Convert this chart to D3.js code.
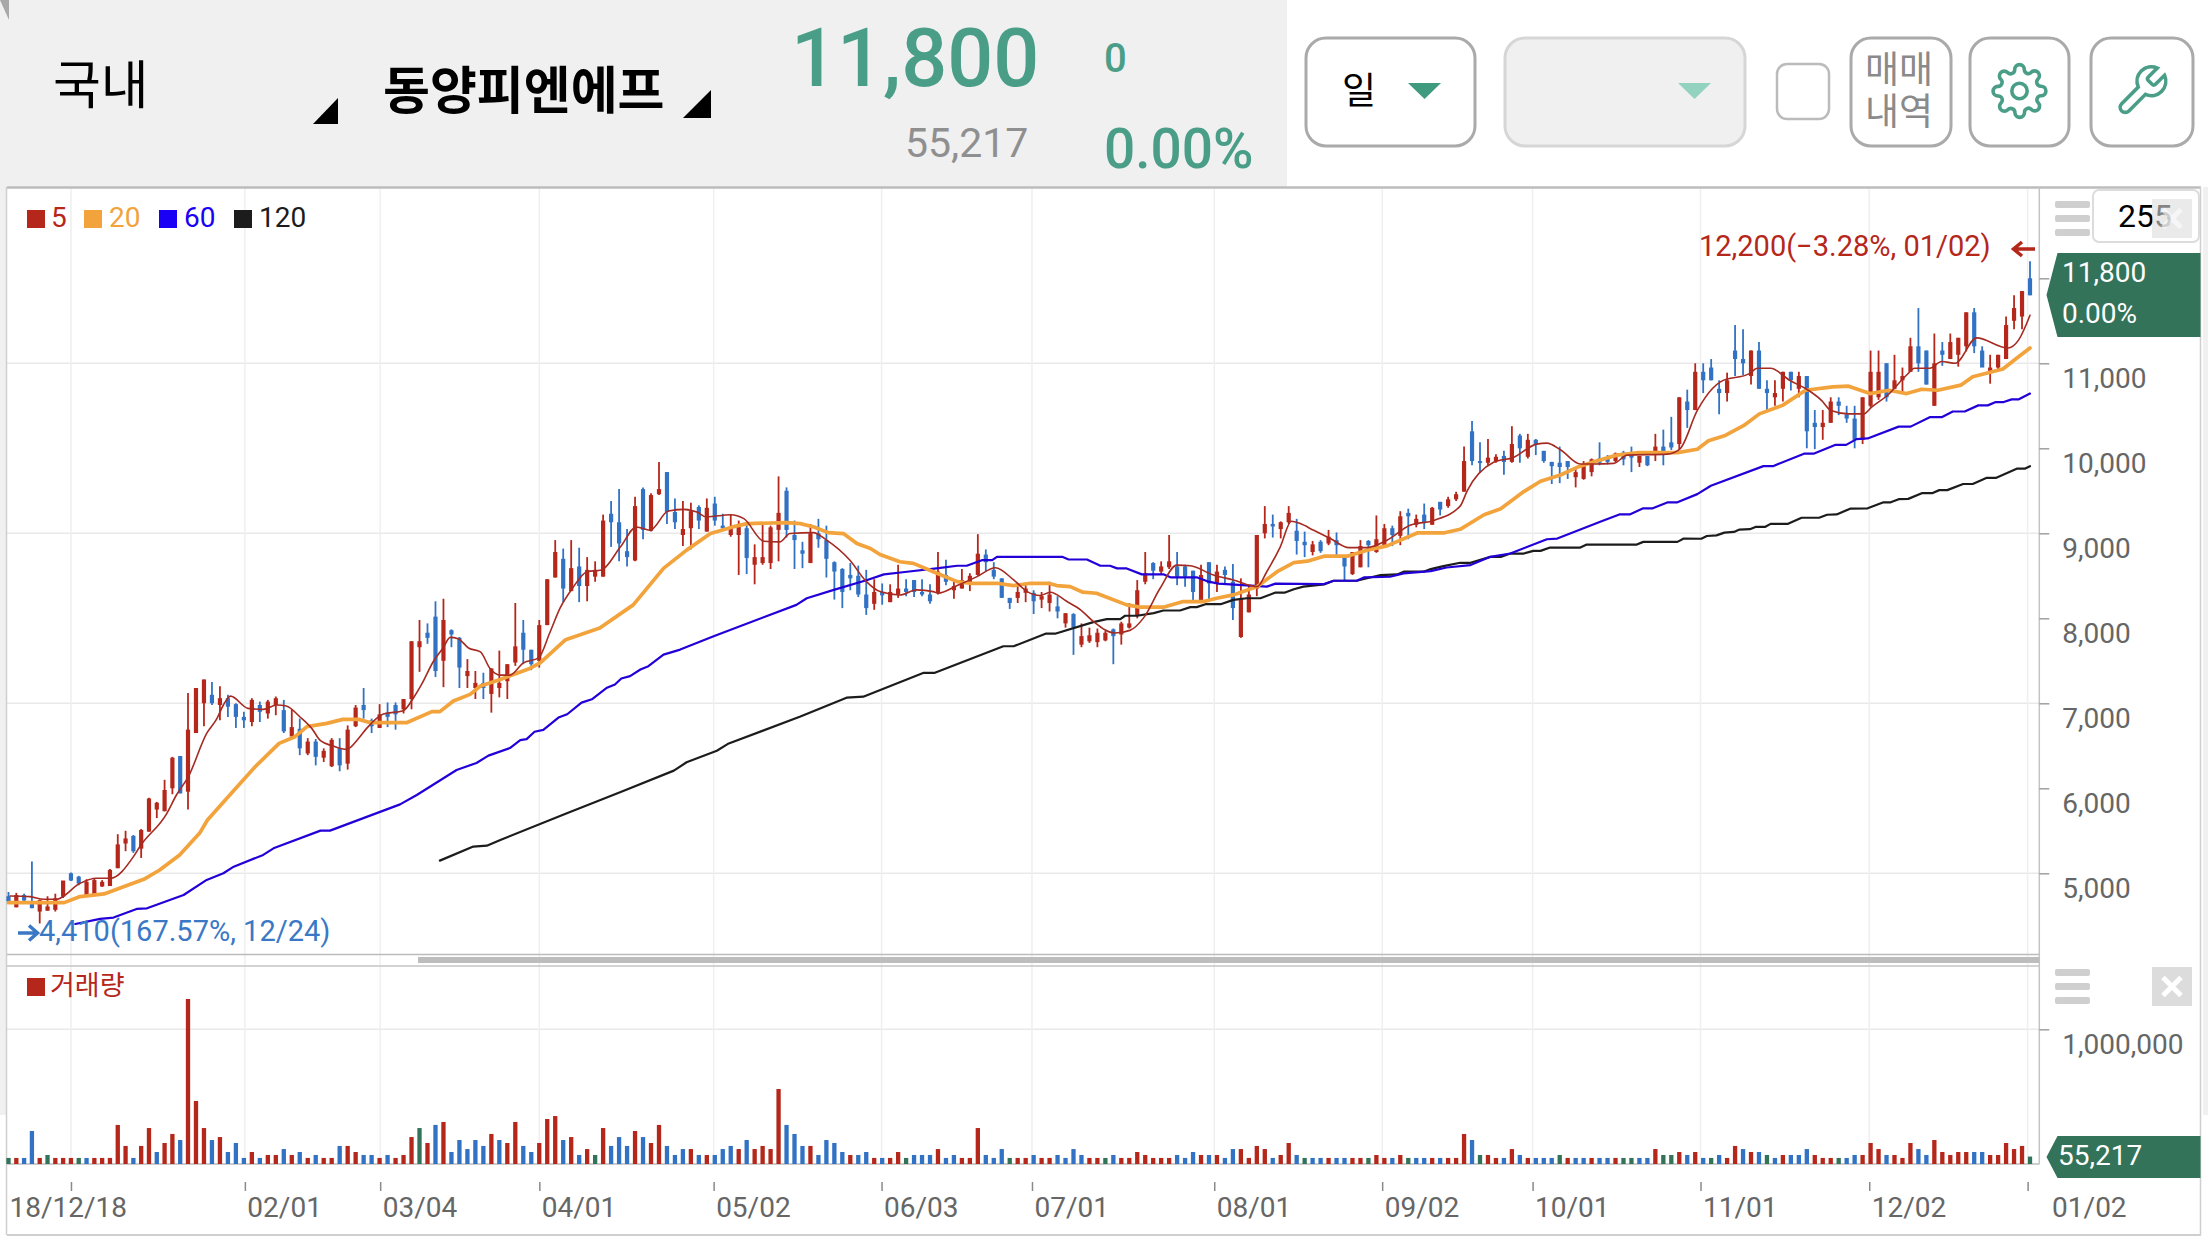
<!DOCTYPE html>
<html><head><meta charset="utf-8">
<script src="https://cdn.jsdelivr.net/npm/d3@7"></script>
<style>html,body{margin:0;padding:0;background:#fff;overflow:hidden}svg{display:block}text{font-family:Roboto,sans-serif}.kr{font-family:"Noto Sans CJK KR",sans-serif}</style>
</head><body><svg id="c" width="2208" height="1242"></svg>
<script>
const highs=[4780,4770,4760,5140,4690,4730,4760,4910,5010,4970,
4930,4940,4920,5050,5460,5500,5450,5520,5890,5840,
6100,6370,6380,7120,7180,7280,7250,7200,7100,7000,
6900,7060,7020,7040,7080,7040,6930,6820,6590,6580,
6470,6590,6590,6740,6980,7180,6820,6990,7010,7010,
7050,7730,7980,7940,8200,8230,7870,7780,7520,7380,
7360,7410,7620,7460,8180,7980,7630,7980,8460,8920,
8820,8920,8830,8720,8670,9220,9380,9520,9050,9430,
9540,9470,9840,9720,9410,9380,9360,9330,9410,9430,
9230,9220,9150,9130,8870,9130,9090,9670,9540,9150,
8900,9110,9170,9090,8670,8590,8650,8620,8570,8460,
8410,8400,8630,8460,8450,8460,8400,8780,8690,8450,
8580,8530,8990,8810,8660,8470,8240,8410,8390,8330,
8310,8430,8260,8060,8060,7940,7890,7880,7850,7880,
7960,8180,8450,8780,8660,8670,8980,8780,8630,8560,
8630,8660,8630,8610,8640,8470,8390,8980,9320,9220,
9140,9320,9170,9020,8910,8920,9040,9010,8710,8780,
8920,8920,9210,9110,9090,9260,9290,9220,9350,9310,
9370,9430,9490,10020,10320,10070,10110,9930,9970,10260,
10170,10170,10110,9970,9840,10020,9850,9780,9850,9880,
10070,9920,9950,9970,10020,9910,9910,10170,10220,10370,
10600,10690,11000,11000,11050,10800,10890,11450,11400,11150,
11250,10800,10800,10900,10900,10900,10850,10450,10450,10600,
10600,10500,10500,10600,11150,11150,11000,11100,10950,11300,
11650,11150,11350,11250,11350,11300,11600,11650,11200,11100,
11100,11550,11800,11850,12200];
const lows=[4650,4600,4670,4590,4410,4560,4550,4710,4910,4860,
4750,4750,4840,4850,5060,5260,5240,5180,5490,5650,
5730,5930,5940,5750,6650,6730,6980,6800,6840,6710,
6710,6730,6780,6820,6860,6650,6590,6390,6390,6270,
6310,6250,6200,6220,6720,6820,6650,6710,6720,6690,
6880,6930,7370,7700,7310,7190,7660,7180,7180,7050,
7050,6890,7070,7050,7440,7460,7390,7420,7920,8480,
8190,8320,8190,8200,8430,8490,8840,8670,8610,8670,
8930,9020,9450,9110,9050,8850,8810,9050,9020,9090,
9050,8960,8510,8520,8400,8630,8580,8670,8950,8580,
8590,8650,8830,8480,8220,8120,8330,8250,8040,8100,
8160,8190,8240,8260,8250,8260,8170,8280,8390,8230,
8350,8320,8500,8550,8460,8240,8110,8180,8190,8050,
8120,8080,8000,7890,7570,7660,7710,7660,7730,7460,
7690,7880,8000,8400,8460,8520,8580,8390,8370,8190,
8190,8200,8310,8400,7980,7770,8070,8260,8940,8950,
8940,9110,8750,8720,8740,8770,8860,8730,8450,8510,
8600,8600,8770,8850,8850,8860,8930,9070,9050,9100,
9210,9300,9380,9490,9800,9710,9800,9830,9690,9830,
9830,9880,9920,9830,9580,9590,9640,9540,9630,9670,
9800,9810,9830,9800,9720,9780,9790,9850,9800,9980,
9990,10240,10450,10650,10800,10400,10550,10850,10860,10750,
10700,10450,10500,10550,10680,10600,10000,9990,10100,10300,
10390,10300,10000,10050,10480,10570,10550,10700,10660,10900,
10900,10750,10500,10970,11050,10960,11140,11120,10960,10760,
10900,11060,11400,11400,11800];
const opens=[4730,4600,4745,4665,4550,4560,4570,4725,5000,4960,
4745,4755,4845,4850,5060,5350,5440,5290,5490,5750,
5730,6000,6380,5960,6650,7000,7100,6980,7060,6990,
6840,6780,6980,6880,6980,6920,6610,6700,6410,6550,
6360,6260,6470,6290,6730,6980,6800,6710,6890,6980,
6930,7050,7660,7830,8020,7500,7860,7770,7320,7180,
7240,7110,7180,7260,7480,7830,7630,7500,7920,8480,
8700,8320,8610,8380,8490,8490,9230,9130,8790,8680,
9520,9030,9460,9720,9250,8980,9060,9310,9020,9350,
9090,8980,8980,9060,8630,8650,8650,9040,9500,8980,
8800,8650,9000,8920,8660,8580,8510,8500,8280,8170,
8310,8190,8280,8350,8450,8310,8280,8300,8510,8330,
8350,8410,8510,8750,8570,8470,8240,8240,8300,8300,
8220,8180,8140,7940,8050,7690,7730,7720,7740,7870,
7810,7890,8030,8430,8650,8550,8600,8610,8610,8560,
8190,8660,8410,8570,8430,7780,8070,8350,9000,9110,
9050,9130,9030,8900,8780,8900,8880,8920,8710,8520,
8600,8910,8780,8860,9060,8970,9240,9100,9220,9100,
9370,9320,9400,9490,10200,9850,9830,9850,9910,9840,
10150,9900,10100,9970,9840,9830,9850,9660,9640,9720,
9880,9890,9850,9950,9930,9830,9910,9960,10020,10070,
10050,10550,10450,10900,10950,10700,10650,11150,11050,10850,
11150,10700,10600,10700,10900,10700,10850,10300,10250,10300,
10550,10400,10350,10100,10500,10600,11000,10700,10800,10900,
11200,11150,10500,11150,11050,11100,11200,11600,11150,10900,
10950,11050,11500,11550,12000];
const closes=[4670,4745,4680,4590,4685,4610,4705,4915,4915,4880,
4900,4920,4900,5040,5340,5410,5260,5510,5880,5830,
5980,6360,5940,6690,7180,7280,7000,7060,6960,6840,
6800,7040,6900,7020,7060,6670,6720,6470,6550,6370,
6440,6570,6270,6690,6950,6920,6730,6870,6840,6870,
7050,7730,7730,7770,7380,7980,7810,7420,7380,7240,
7180,7410,7240,7460,7670,7630,7460,7920,8460,8780,
8350,8590,8380,8570,8570,9150,9130,8880,8720,9320,
9040,9450,9520,9250,9130,9050,9260,9150,9300,9150,
9060,9070,9110,8710,8720,8720,9070,9240,9040,8920,
8760,9000,8930,8700,8550,8310,8470,8280,8120,8310,
8270,8310,8350,8310,8310,8280,8200,8550,8430,8380,
8450,8500,8760,8660,8490,8240,8180,8310,8350,8200,
8260,8280,8080,8060,7890,7790,7800,7830,7830,7790,
7940,7940,8330,8530,8560,8610,8670,8490,8490,8310,
8510,8410,8550,8510,8120,8240,8280,8980,9110,9080,
9130,9240,8910,8860,8870,8790,8960,8860,8610,8780,
8850,8860,8930,9060,8980,9200,9200,9170,9120,9300,
9280,9400,9460,9850,9850,9830,9890,9900,9840,10050,
10000,10100,10050,9850,9790,9780,9780,9720,9800,9870,
9830,9840,9940,9870,9890,9910,9800,10020,9950,10010,
10600,10450,10900,10800,10800,10650,10800,11050,11000,11150,
10700,10650,10650,10900,10800,10850,10200,10250,10300,10550,
10500,10350,10100,10600,10900,10900,10600,10800,10850,11200,
11000,10750,11000,11100,11250,11300,11600,11200,10950,10950,
11100,11450,11650,11850,11800];
const volumeThousands=[45,45,45,245,45,67,45,45,45,45,
45,45,45,45,290,134,45,134,267,89,
156,223,178,1225,468,267,178,200,89,156,
45,89,45,67,67,111,67,89,45,67,
45,45,134,134,89,67,67,45,67,45,
67,200,267,156,290,312,89,178,111,178,
134,223,178,156,312,134,89,156,334,356,
178,200,67,111,67,267,134,200,134,245,
200,156,290,134,67,111,111,67,67,67,
111,134,111,178,111,134,111,557,290,223,
134,134,67,178,156,89,67,67,89,45,
45,45,89,45,67,67,67,111,45,67,
45,45,267,67,45,111,45,45,45,67,
45,45,67,45,111,67,45,45,45,67,
45,45,89,67,45,45,45,67,45,89,
67,67,67,45,111,111,45,134,111,45,
67,156,67,45,45,45,45,45,45,45,
45,45,67,45,45,67,45,45,45,45,
45,45,45,223,178,67,67,45,45,111,
67,45,45,45,45,67,45,45,45,45,
45,45,45,45,45,45,45,111,67,67,
89,67,89,45,45,67,45,134,111,89,
89,67,45,67,67,67,111,67,45,45,
45,45,67,67,156,111,67,67,45,156,
111,67,178,89,67,89,89,89,89,67,
67,156,111,134,55.217];
const volumeDirs=("grbbrgrrrgbrrrrrbrrbrrbrrrbrbbbrbrrbrbrbrrbrrbbrbrrrgrbrbbbbbrbrrbbrrrbrbrgrbbbrbrrbbbrbrbbbrbrrrrbbbrbbbbrbbrbrrgbbbrbbrrrbbbgrrbrrbbbbrrgbrrrrrrrbbbrbrbbrrrrbrrbgbbrbbrrgrrbrgbbrbrrrb"+"grrbrbrbbbgrbbrbbrggbbrggrbrbgbrrbrbgbrbbbrrrgbbrrrbrrrbbrrrrrbbrrrrrg").split("");
const ma5Knots=[[0.2,4733],[2.7,4726],[4.4,4694],[6,4694],[9,4882],[11,4941],[12.8,4941],[15.7,5196],[16.5,5314],[19.9,5706],[21.1,5921],[22.6,6137],[24.9,6646],[26.2,6823],[27,6980],[27.9,7085],[30.1,6940],[32,6929],[33.7,6980],[34.9,6968],[36.6,6842],[38.1,6705],[39.2,6560],[40.8,6497],[42.5,6458],[44,6588],[45,6705],[47.1,6874],[49.6,6913],
[50.9,7066],[51.9,7222],[53.4,7495],[54.6,7651],[55.5,7776],[56.5,7760],[57.8,7651],[59.3,7604],[60.5,7409],[61.8,7331],[63,7331],[64.7,7476],[66.6,7534],[68,7827],[69.3,8119],[70.8,8345],[72.7,8548],[74.5,8568],[76.9,8841],[78.9,9075],[80.6,9036],[82.9,9262],[84.8,9281],[86.5,9250],[87.7,9192],[90.7,9219],[92.4,9172],[94.9,8907],[96.9,8899],[98.2,8997],[101.1,9008],[102.8,8919],[105.7,8685],[107.8,8431],[109.5,8314],[112,8275],
[114.1,8334],[116.2,8314],[116.8,8295],[119.2,8385],[121.7,8490],[124,8595],[126.3,8451],[128,8314],[129.6,8268],[130.9,8307],[133,8197],[134.7,8100],[136.3,7963],[139,7827],[140.9,7858],[142.6,8002],[144.7,8353],[146.8,8626],[148.5,8618],[151.4,8509],[153.9,8451],[156.9,8373],[158.1,8548],[159.8,8841],[161.2,9141],
[162.3,9114],[164,9035],[166.1,8938],[168.4,8832],[170.7,8832],[173.2,8918],[176.1,9094],[179.1,9152],[182.4,9320],[183.3,9503],[186.6,9835],[189.1,9893],[192,10049],[193.3,10061],[195,9983],[197.5,9815],[199.2,9815],[201.7,9823],[203.4,9920],[208.4,9932],[210,9991],[212.2,10445],[214.1,10703],[215.1,10782],[218.8,10882],[219.7,10941],[221.4,10941],[223.9,10794],[225.8,10703],[227.8,10564],[229,10445],[231.2,10405],[233.1,10405],[234.1,10485],[236.1,10624],[238.5,10862],[239.5,10941],[241.4,10941],[242.9,11021],[244.6,11001],[247.3,11299],[251.2,11180],[252.6,11279],[254,11565]];
const ma20Knots=[[0,4655],[7,4655],[9,4726],[12,4757],[17,4929],[19,5039],[21.5,5216],[24,5470],[25,5627],[28,5941],[31,6254],[34,6529],[36,6607],[37.5,6725],[40,6764],[42,6811],[44,6811],[45.5,6772],[50,6772],[53.2,6902],[54.2,6902],[55.9,7027],[58,7105],[59.3,7203],[61.8,7281],[65.5,7410],[66.8,7476],[70,7749],[74.3,7885],[78.5,8158],[82.3,8587],[85.2,8802],[88.2,8997],[91,9075],[92.8,9114],[97.8,9125],[99.5,9114],[101.2,9075],[103,9008],[104.9,8997],[106.6,8880],[108.3,8821],[109.5,8751],[112,8665],[113.7,8646],[116.2,8548],[119.2,8431],[120.8,8412],[124.2,8412],[126.3,8385],[128.4,8412],[130.7,8412],[131.7,8385],[133.4,8373],[135,8307],[136.7,8295],[140.5,8158],[142.2,8131],[145.1,8131],[147.6,8197],[150.2,8197],[151.8,8236],[153.9,8275],[156.9,8373],[159.4,8548],[161.5,8654],[163.2,8672],[165.3,8731],[168.2,8731],[170.7,8801],[173.2,8852],[177,9004],[180.3,9004],[182.4,9047],[185.4,9218],[187.5,9289],[190.4,9491],[192.5,9612],[195,9686],[197.1,9776],[199.2,9842],[202.1,9920],[204.9,9949],[209.7,9949],[212.2,9989],[213.6,10088],[215.6,10147],[218,10266],[220,10405],[222.9,10505],[225.8,10683],[229.2,10723],[231.2,10731],[233.9,10644],[236.3,10683],[238.5,10644],[240.4,10695],[242.4,10683],[245.3,10743],[246.8,10842],[250.6,10933],[252.6,11080],[254,11180]];
const ma60Knots=[[8.4,4404],[11.5,4463],[13.2,4479],[16.1,4581],[17.4,4588],[22,4745],[24.9,4922],[27,5000],[28.3,5078],[32,5216],[33.3,5294],[39.2,5502],[40.4,5502],[49.2,5811],[51.3,5921],[56.3,6215],[58.8,6298],[60.3,6384],[63,6474],[64.3,6567],[65.1,6579],[66.1,6665],[67.2,6688],[69.1,6832],[70.2,6871],[72,7008],[73.3,7047],[75.2,7183],[76.2,7222],[77,7292],[78.1,7320],[79.4,7398],[80.4,7437],[82.3,7573],[84.4,7632],[88.6,7788],[99,8158],[100.3,8236],[103.7,8334],[107.9,8451],[110,8517],[112.9,8548],[116.6,8587],[119.2,8618],[120.4,8618],[122.3,8684],[123.6,8684],[124.2,8723],[132.4,8723],[133.2,8692],[135.5,8692],[137.2,8618],[138.4,8618],[139.3,8587],[140.5,8587],[142.4,8517],[145.1,8517],[146,8482],[149.3,8482],[150.8,8431],[152,8408],[158.1,8373],[159.2,8408],[165.3,8403],[166.5,8442],[169.4,8442],[170.3,8481],[173.6,8489],[175.3,8528],[178.7,8555],[180.7,8598],[183.7,8626],[186.2,8723],[188.7,8762],[193.3,8930],[194.6,8938],[200,9135],[202.4,9222],[203.7,9222],[205.4,9294],[206.6,9294],[208.5,9365],[209.7,9365],[212.2,9461],[213.9,9560],[220.5,9790],[221.7,9790],[225.6,9937],[226.8,9937],[229.5,10040],[230.9,10040],[232.2,10108],[233.6,10116],[237.5,10255],[239,10255],[241.4,10366],[242.9,10366],[244.3,10433],[245.8,10433],[247.5,10505],[248.7,10505],[249.7,10544],[250.7,10544],[251.7,10576],[252.6,10576],[254,10644]];
const ma120Knots=[[54.2,5149],[58.4,5314],[60.1,5325],[61.8,5392],[70,5700],[77,5960],[83.6,6208],[85.2,6306],[89,6442],[90.5,6528],[99.5,6844],[105.3,7066],[107.4,7078],[115,7359],[116.4,7359],[125,7671],[126.3,7671],[130.3,7819],[131.5,7819],[136.3,7955],[138,7990],[139.7,7990],[140.3,8030],[141.8,8030],[143.9,8061],[145.1,8092],[147.2,8092],[148.5,8131],[149.3,8131],[150.4,8166],[152.3,8166],[153.9,8217],[155.6,8236],[157.3,8236],[159.2,8303],[160.4,8303],[161.5,8342],[162.7,8372],[165.3,8399],[166.5,8442],[169.4,8442],[172.4,8509],[174.5,8516],[175.3,8548],[177.8,8548],[178.7,8579],[180.3,8614],[182.4,8653],[183.7,8653],[186.2,8723],[187.5,8723],[188.7,8762],[190.4,8762],[191.6,8793],[192.5,8793],[193.7,8832],[197.5,8832],[198.3,8867],[204.6,8867],[205.4,8899],[209.7,8899],[210.5,8938],[212.7,8936],[213.4,8968],[214.6,8976],[215.6,9008],[216.8,9016],[217.5,9044],[218.8,9048],[219.5,9075],[220.7,9075],[221.4,9111],[223.6,9111],[225.3,9183],[227.5,9183],[228.5,9218],[229.7,9222],[231.4,9290],[233.6,9294],[235.6,9365],[236.5,9365],[237.5,9401],[238.7,9405],[240.4,9472],[241.7,9472],[242.6,9508],[243.6,9508],[245.6,9580],[246.8,9580],[248.5,9651],[249.7,9651],[252.4,9762],[253.4,9762],[254,9790]];
const tickDays=[7.85,29.7,46.7,66.7,88.6,109.7,128.6,151.5,172.6,191.5,212.6,233.8,253.7];
const tickLabels=["18/12/18","02/01","03/04","04/01","05/02","06/03","07/01","08/01","09/02","10/01","11/01","12/02","01/02"];
const priceTicks=[5000,6000,7000,8000,9000,10000,11000,12000];
const priceGrid=[5000,7000,9000,11000];
const volumeTicks=[1000000];
const legendNames=["5","20","60","120"];
const lastPrice=11800, lastVolume=55217;

const RED="#b5271b",BLUE="#3272c4",GREEN="#33735a",ORANGE="#f2a33c",INDIGO="#2200d8",BLACK="#1c1c1c",MINT="#4a9e88";
const svg=d3.select("#c");
const xLine=d3.scaleLinear().domain([0,254]).range([8.5,2030]);
const x=d3.scaleLinear().domain([0,23,82,254]).range([8.5,188,659,2030]);
const y=d3.scaleLinear().domain([5000,11000]).range([873.3,363.3]);
const yv=d3.scaleLinear().domain([0,1000000]).range([1164,1029.3]);
const L=7,R=2039.3;
const rect=(g,a,b,w,h,f,o={})=>{const r=g.append("rect").attr("x",a).attr("y",b).attr("width",w).attr("height",h).attr("fill",f);for(const k in o)r.attr(k,o[k]);return r;};
const txt=(g,s,a,b,fs,f,o={})=>{const t=g.append("text").attr("x",a).attr("y",b).attr("font-size",fs).attr("fill",f).text(s);for(const k in o)t.attr(k,o[k]);return t;};
const hline=(a,b,yy,c,w)=>svg.append("line").attr("x1",a).attr("x2",b).attr("y1",yy).attr("y2",yy).attr("stroke",c).attr("stroke-width",w);
const vline=(xx,a,b,c,w)=>svg.append("line").attr("x1",xx).attr("x2",xx).attr("y1",a).attr("y2",b).attr("stroke",c).attr("stroke-width",w);

// header
rect(svg,0,0,1287,187,"#f0f0f0");
svg.append("path").attr("d","M0 0H9L9 20Z").attr("fill","#a8a8a8");
rect(svg,0,187,6,928,"#f0f0f0");
rect(svg,2203,187,5,928,"#f0f0f0");
txt(svg,"국내",53,104,52,"#000",{class:"kr"});
svg.append("path").attr("d","M338 98V124H313Z").attr("fill","#000");
txt(svg,"동양피엔에프",383,109,51,"#000",{class:"kr","font-weight":700});
svg.append("path").attr("d","M711 90V118H683Z").attr("fill","#000");
txt(svg,d3.format(",")(lastPrice),791,86,81,MINT,{"font-weight":500});
txt(svg,"0",1104,72,40,MINT,{"font-weight":500});
txt(svg,d3.format(",")(lastVolume),905,157,41,"#8f8f8f");
txt(svg,"0.00%",1104,168,55,MINT,{"font-weight":500});
// buttons
const btn=(a,w,f,s)=>rect(svg,a,38,w,108,f,{rx:20,stroke:s,"stroke-width":3});
btn(1306,169,"#fff","#aaa");
txt(svg,"일",1342,104,37,"#000",{class:"kr"});
svg.append("path").attr("d","M1408 83H1441L1424.5 99Z").attr("fill","#3f9a80");
btn(1505,240,"#f0f0f0","#d6d6d6");
svg.append("path").attr("d","M1678 83H1711L1694.5 99Z").attr("fill","#94d2c0");
rect(svg,1777,64,52,55,"#fff",{rx:10,stroke:"#bbb","stroke-width":2.5});
btn(1851,100,"#fff","#aaa");
const tradeText=txt(svg,"",0,0,37,"#8a8a8a",{class:"kr"});
tradeText.append("tspan").attr("x",1865).attr("y",83).text("매매");
tradeText.append("tspan").attr("x",1865).attr("y",125).text("내역");
btn(1970,99,"#fff","#aaa");
svg.append("g").attr("transform","translate(1990.7,62.2) scale(2.4)").call(g=>{
 g.append("circle").attr("cx",12).attr("cy",12).attr("r",3.2).attr("fill","none").attr("stroke",MINT).attr("stroke-width",1.5);
 g.append("path").attr("fill","none").attr("stroke",MINT).attr("stroke-width",1.5).attr("d","M19.4 15a1.65 1.65 0 0 0 .33 1.82l.06.06a2 2 0 0 1 0 2.83 2 2 0 0 1-2.83 0l-.06-.06a1.65 1.65 0 0 0-1.82-.33 1.65 1.65 0 0 0-1 1.51V21a2 2 0 0 1-2 2 2 2 0 0 1-2-2v-.09A1.65 1.65 0 0 0 9 19.4a1.65 1.65 0 0 0-1.82.33l-.06.06a2 2 0 0 1-2.83 0 2 2 0 0 1 0-2.83l.06-.06a1.65 1.65 0 0 0 .33-1.82 1.65 1.65 0 0 0-1.51-1H3a2 2 0 0 1-2-2 2 2 0 0 1 2-2h.09A1.65 1.65 0 0 0 4.6 9a1.65 1.65 0 0 0-.33-1.82l-.06-.06a2 2 0 0 1 0-2.83 2 2 0 0 1 2.83 0l.06.06a1.65 1.65 0 0 0 1.82.33H9a1.65 1.65 0 0 0 1-1.51V3a2 2 0 0 1 2-2 2 2 0 0 1 2 2v.09a1.65 1.65 0 0 0 1 1.51 1.65 1.65 0 0 0 1.82-.33l.06-.06a2 2 0 0 1 2.83 0 2 2 0 0 1 0 2.83l-.06.06a1.65 1.65 0 0 0-.33 1.82V9a1.65 1.65 0 0 0 1.51 1H21a2 2 0 0 1 2 2 2 2 0 0 1-2 2h-.09a1.65 1.65 0 0 0-1.51 1z");
});
btn(2091,102,"#fff","#aaa");
svg.append("path").attr("transform","translate(2113,62) scale(2.4)").attr("fill","none").attr("stroke",MINT).attr("stroke-width",1.5).attr("d","M14.7 6.3a1 1 0 0 0 0 1.4l1.6 1.6a1 1 0 0 0 1.4 0l3.77-3.77a6 6 0 0 1-7.94 7.94l-6.91 6.91a2.12 2.12 0 0 1-3-3l6.91-6.91a6 6 0 0 1 7.94-7.94l-3.76 3.76z");

// grid
priceGrid.forEach(p=>hline(L,R,y(p),"#e9e9e9",1.5));
volumeTicks.forEach(v=>hline(L,R,yv(v),"#e9e9e9",1.5));
tickDays.forEach(d=>vline(xLine(d),188,1164,"#efefef",1.5));

// frame
hline(L,2201,187.5,"#bcbcbc",2.5);
vline(L-0.5,187,1235,"#cfcfcf",1.5);
vline(R,187,1164,"#c4c4c4",1.5);
vline(2200.5,187,1235,"#cfcfcf",1.5);
hline(L,2201,1235,"#cfcfcf",2);
hline(L,R,954.5,"#bcbcbc",1.5);
hline(L,R,966,"#c4c4c4",1.5);
rect(svg,418,957,R-418,6,"#bdbdbd");
hline(L,R,1164,"#bcbcbc",1.5);

// axes
const gy=svg.append("g").attr("transform",`translate(${R},0)`).call(d3.axisRight(y).tickValues(priceTicks).tickSize(10).tickPadding(13).tickFormat(d=>d===12000?"":d3.format(",")(d)));
const gv=svg.append("g").attr("transform",`translate(${R},0)`).call(d3.axisRight(yv).tickValues(volumeTicks).tickSize(10).tickPadding(13).tickFormat(d3.format(",")));
const gx=svg.append("g").attr("transform","translate(0,1182)").call(d3.axisBottom(xLine).tickValues(tickDays).tickSize(9).tickFormat((d,i)=>tickLabels[i]));
[gy,gv].forEach(g=>{g.select(".domain").remove();g.selectAll(".tick line").attr("stroke","#a0a0a0").attr("stroke-width",1.5);
 g.selectAll("text").attr("dy",0).attr("y",24).attr("font-size",28).attr("fill","#666").style("font-family","Roboto");});
gx.select(".domain").remove();gx.selectAll(".tick line").attr("stroke","#8a8a8a").attr("stroke-width",1.5);
gx.selectAll("text").attr("dy",0).attr("y",35).attr("font-size",28).attr("fill","#666").attr("text-anchor","start").style("font-family","Roboto")
 .attr("x",(d,i)=>i===0?-62:i===tickDays.length-1?24:2);

// volume
const days=d3.range(highs.length);
const dirColor={r:RED,b:BLUE,g:GREEN};
svg.append("g").selectAll("rect").data(days).join("rect")
 .attr("x",d=>x(d)-2.15).attr("width",4.3)
 .attr("y",d=>yv(volumeThousands[d]*1000)).attr("height",d=>yv(0)-yv(volumeThousands[d]*1000))
 .attr("fill",d=>dirColor[volumeDirs[d]]);

// candles
const cg=svg.append("g");
cg.selectAll("line").data(days).join("line")
 .attr("x1",d=>x(d)).attr("x2",d=>x(d)).attr("y1",d=>y(highs[d])).attr("y2",d=>y(lows[d]))
 .attr("stroke-width",1.8).attr("stroke",d=>closes[d]>=opens[d]?RED:BLUE);
cg.selectAll("rect").data(days).join("rect")
 .attr("x",d=>x(d)-2.1).attr("width",4.2)
 .attr("y",d=>y(Math.max(opens[d],closes[d])))
 .attr("height",d=>Math.max(2,Math.abs(y(opens[d])-y(closes[d]))))
 .attr("fill",d=>closes[d]>=opens[d]?RED:BLUE);

// moving averages
const ln=(c)=>d3.line().x(d=>xLine(d[0])).y(d=>y(d[1])).curve(c);
const ma=(k,col,w,c)=>svg.append("path").datum(k).attr("d",ln(c)).attr("fill","none").attr("stroke",col).attr("stroke-width",w).attr("stroke-linejoin","round").attr("stroke-linecap","round");
ma(ma120Knots,BLACK,2.2,d3.curveLinear);
ma(ma60Knots,INDIGO,2.2,d3.curveLinear);
ma(ma20Knots,ORANGE,3.7,d3.curveLinear);
ma(ma5Knots,"#a52a22",1.6,d3.curveMonotoneX);

// legend
const legendSq=[27,84,159,234],legendTx=[51,109,184,259],legendCol=[RED,ORANGE,"#1a00f5",BLACK];
legendNames.forEach((n,i)=>{rect(svg,legendSq[i],210,18,18,legendCol[i]);txt(svg,n,legendTx[i],227,28,legendCol[i]);});
rect(svg,27,978,18,18,RED);
txt(svg,"거래량",50,995,27,RED,{class:"kr"});

// annotations
txt(svg,"4,410(167.57%, 12/24)",39,941,29,"#3a78c6");
svg.append("path").attr("d","M18 933H37M29 925.5L37.5 933L29 940.5").attr("fill","none").attr("stroke","#3a78c6").attr("stroke-width",3.5);
txt(svg,"12,200(−3.28%, 01/02)",1699,256,29,RED);
svg.append("path").attr("d","M2035 249H2014M2022 242L2013.5 249L2022 256").attr("fill","none").attr("stroke",RED).attr("stroke-width",3.5);

// price tag
const tag=(top,bot,mid)=>svg.append("path").attr("d",`M2057.5 ${top}H2200.5V${bot}H2057.5L2046.5 ${mid}Z`).attr("fill",GREEN);
tag(253,337,295);
txt(svg,d3.format(",")(lastPrice),2062,282,28,"#fff");
txt(svg,"0.00%",2062,323,28,"#fff");
tag(1136,1178,1157);
txt(svg,d3.format(",")(lastVolume),2058,1165,28,"#fff");

// side controls
const burger=(b)=>[0,14,28].forEach(o=>rect(svg,2055,b+o,35,7,"#cfcfcf",{rx:2}));
const closeBox=(a,b,h,xo)=>{rect(svg,2152,b,40,h,"#dcdcdc",{opacity:a});
 svg.append("path").attr("d",`M2163 ${b+h/2-9}L2181 ${b+h/2+9}M2181 ${b+h/2-9}L2163 ${b+h/2+9}`).attr("stroke","#fff").attr("stroke-width",5).attr("opacity",xo);};
burger(201);
rect(svg,2093,190,106,52,"#fff",{rx:6,stroke:"#dcdcdc","stroke-width":2});
txt(svg,"255",2118,227,32,"#000");
closeBox(0.6,199,39,0.6);
burger(969);
closeBox(1,967,39,1);
</script></body></html>
